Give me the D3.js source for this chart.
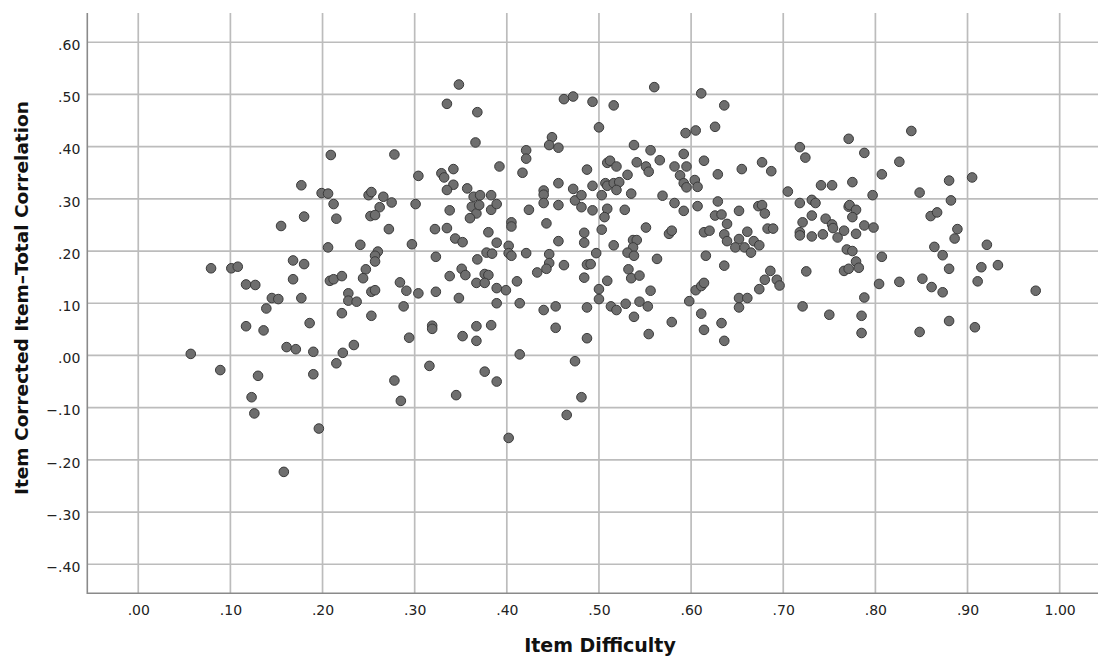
<!DOCTYPE html>
<html>
<head>
<meta charset="utf-8">
<script src="https://cdn.jsdelivr.net/npm/d3@7"></script>
<style>
  html, body { margin: 0; padding: 0; background: #ffffff; }
  svg { display: block; }
</style>
</head>
<body>
<svg id="chart" width="1098" height="657"></svg>
<script>
// ---- Data ----
const difficulty = [
0.348,0.335,0.368,0.366,0.209,0.278,0.304,0.329,0.332,0.342,0.342,0.335,0.357,0.364,0.362,0.367,0.360,0.338,
0.177,0.199,0.206,0.212,0.180,0.215,0.155,0.250,0.253,0.266,0.275,0.262,0.252,0.257,0.301,0.272,0.322,0.335,
0.344,0.352,0.368,0.206,0.241,0.297,0.260,0.257,0.257,0.247,0.244,0.323,0.351,0.355,0.338,0.367,0.079,0.101,
0.108,0.117,0.127,0.168,0.180,0.168,0.208,0.212,0.221,0.145,0.152,0.177,0.139,0.228,0.228,0.237,0.253,0.257,
0.284,0.291,0.304,0.323,0.348,0.221,0.253,0.288,0.117,0.136,0.186,0.319,0.319,0.294,0.352,0.367,0.367,0.161,
0.171,0.190,0.222,0.234,0.057,
0.215,0.089,0.130,0.190,0.316,0.278,0.285,0.345,0.123,0.126,0.196,0.158,
0.389,0.414,0.440,0.453,0.487,0.513,0.519,0.529,0.544,0.553,0.538,0.598,0.579,0.611,0.633,0.614,0.636,0.652,
0.721,0.750,0.785,0.785,0.383,0.453,0.487,0.554,0.414,0.474,0.376,0.389,0.481,0.465,0.402,
0.462,0.472,0.493,0.516,0.560,0.611,0.636,0.500,0.594,0.605,0.626,0.449,0.446,0.456,0.421,0.421,0.417,0.392,
0.371,0.383,0.370,0.383,0.389,0.380,0.389,0.405,0.405,0.424,0.440,0.440,0.440,0.443,0.456,0.456,0.472,0.474,
0.481,0.481,0.493,0.493,0.487,0.507,0.509,0.516,0.522,0.519,0.509,0.512,0.519,0.531,0.538,0.541,0.551,0.554,
0.556,0.566,0.535,0.503,0.509,0.506,0.528,0.503,0.516,0.497,0.484,0.484,0.551,0.537,0.541,0.537,0.531,0.538,
0.563,0.532,0.535,0.544,0.556,0.487,0.491,0.484,0.509,0.500,0.500,0.462,0.446,0.446,0.443,0.433,0.421,0.402,
0.402,0.405,0.411,0.399,0.389,0.378,0.384,0.376,0.380,0.376,0.456,0.576,0.579,0.569,0.582,0.592,0.607,0.582,
0.592,0.595,0.588,0.592,0.595,0.604,0.607,0.614,0.629,0.655,0.677,0.687,0.629,0.626,0.633,0.639,0.652,0.673,
0.677,0.680,0.614,0.620,0.636,0.639,0.652,0.648,0.661,0.658,0.665,0.668,0.674,0.683,0.689,0.616,0.636,0.686,
0.680,0.693,0.696,0.674,0.652,0.661,0.605,0.611,0.614,0.705,0.718,0.724,0.741,0.753,0.771,0.718,0.731,0.735,
0.731,0.721,0.718,0.718,0.731,0.746,0.753,0.754,0.743,0.759,0.766,0.771,0.769,0.725,0.766,0.771,
0.839,0.788,0.826,0.807,0.775,0.880,0.905,0.848,0.797,0.882,0.772,0.779,0.775,0.860,0.867,0.779,0.788,0.798,
0.889,0.886,0.864,0.873,0.921,0.775,0.807,0.779,0.782,0.880,0.915,0.933,0.804,0.826,0.851,0.861,0.873,0.911,
0.974,0.788,0.848,0.880,0.908
];
const correlation = [
0.519,0.482,0.466,0.408,0.384,0.385,0.344,0.349,0.341,0.357,0.327,0.317,0.320,0.304,0.285,0.272,0.263,0.278,
0.326,0.311,0.310,0.290,0.266,0.262,0.248,0.307,0.313,0.304,0.293,0.284,0.267,0.269,0.290,0.242,0.242,0.244,
0.224,0.217,0.184,0.207,0.212,0.213,0.199,0.191,0.180,0.165,0.148,0.189,0.166,0.154,0.152,0.139,0.167,0.167,
0.170,0.136,0.135,0.182,0.175,0.146,0.143,0.146,0.152,0.110,0.108,0.110,0.090,0.119,0.105,0.103,0.122,0.125,
0.140,0.124,0.119,0.122,0.110,0.081,0.076,0.094,0.056,0.048,0.062,0.057,0.051,0.034,0.037,0.056,0.028,0.016,
0.012,0.007,0.005,0.020,0.003,
-0.015,-0.028,-0.039,-0.036,-0.020,-0.048,-0.087,-0.076,-0.080,-0.111,-0.140,-0.223,
0.100,0.100,0.087,0.094,0.092,0.094,0.087,0.099,0.103,0.094,0.074,0.104,0.064,0.080,0.062,0.049,0.028,0.092,
0.094,0.078,0.076,0.043,0.058,0.053,0.033,0.041,0.002,-0.011,-0.031,-0.050,-0.080,-0.114,-0.158,
0.491,0.496,0.486,0.479,0.514,0.502,0.479,0.437,0.426,0.431,0.438,0.418,0.403,0.398,0.393,0.377,0.350,0.362,
0.307,0.307,0.288,0.279,0.290,0.236,0.216,0.255,0.247,0.279,0.316,0.308,0.292,0.253,0.330,0.288,0.319,0.297,
0.307,0.284,0.325,0.278,0.356,0.330,0.325,0.330,0.332,0.317,0.369,0.373,0.362,0.346,0.403,0.370,0.362,0.352,
0.393,0.374,0.310,0.307,0.281,0.265,0.279,0.241,0.211,0.196,0.235,0.216,0.245,0.221,0.221,0.207,0.197,0.191,
0.185,0.165,0.148,0.153,0.124,0.174,0.175,0.149,0.143,0.127,0.108,0.173,0.194,0.177,0.166,0.159,0.196,0.210,
0.196,0.191,0.142,0.125,0.129,0.197,0.195,0.156,0.154,0.139,0.219,0.233,0.239,0.306,0.292,0.277,0.286,0.362,
0.386,0.362,0.345,0.330,0.322,0.336,0.323,0.373,0.347,0.357,0.370,0.353,0.295,0.268,0.270,0.252,0.277,0.286,
0.288,0.272,0.236,0.239,0.232,0.219,0.223,0.207,0.237,0.207,0.197,0.219,0.211,0.243,0.243,0.191,0.172,0.162,
0.145,0.145,0.134,0.127,0.110,0.110,0.125,0.133,0.139,0.314,0.399,0.379,0.326,0.326,0.415,0.292,0.298,0.292,
0.268,0.255,0.236,0.230,0.228,0.262,0.251,0.244,0.232,0.226,0.239,0.285,0.203,0.161,0.162,0.166,
0.430,0.388,0.371,0.347,0.332,0.335,0.341,0.312,0.307,0.297,0.288,0.279,0.265,0.267,0.274,0.233,0.249,0.245,
0.242,0.224,0.208,0.192,0.212,0.200,0.189,0.180,0.168,0.166,0.169,0.173,0.137,0.141,0.147,0.131,0.121,0.142,
0.124,0.111,0.045,0.066,0.054
];
const xTickValues = [0.0,0.1,0.2,0.3,0.4,0.5,0.6,0.7,0.8,0.9,1.0];
const xTickLabels = [".00",".10",".20",".30",".40",".50",".60",".70",".80",".90","1.00"];
const yTickValues = [-0.4,-0.3,-0.2,-0.1,0.0,0.1,0.2,0.3,0.4,0.5,0.6];
const yTickLabels = ["\u2212.40","\u2212.30","\u2212.20","\u2212.10",".00",".10",".20",".30",".40",".50",".60"];
const xDomain = [-0.0553, 1.0416];
const yDomain = [-0.4556, 0.656];
const xTitle = "Item Difficulty";
const yTitle = "Item Corrected Item\u2013Total Correlation";

// ---- Layout ----
const W = 1098, H = 657;
const plot = { left: 87.3, right: 1098, top: 13, bottom: 593.3 };

const svg = d3.select("#chart");
const x = d3.scaleLinear().domain(xDomain).range([plot.left, plot.right]);
const y = d3.scaleLinear().domain(yDomain).range([plot.bottom, plot.top]);

const gridColor = "#bcbcbc";
const axisColor = "#8a8a8a";
const tickFont = "'DejaVu Sans', sans-serif";

// Grid lines
const grid = svg.append("g");
grid.selectAll("line.v").data(xTickValues).join("line")
  .attr("x1", d => x(d)).attr("x2", d => x(d))
  .attr("y1", plot.top).attr("y2", plot.bottom)
  .attr("stroke", gridColor).attr("stroke-width", 1.7);
grid.selectAll("line.h").data(yTickValues).join("line")
  .attr("x1", plot.left).attr("x2", plot.right)
  .attr("y1", d => y(d)).attr("y2", d => y(d))
  .attr("stroke", gridColor).attr("stroke-width", 1.7);

// Axes (D3 axes with custom labels)
const xAxis = d3.axisBottom(x).tickValues(xTickValues)
  .tickFormat((d, i) => xTickLabels[i]).tickSize(0).tickPadding(12);
const gx = svg.append("g").attr("transform", `translate(0,${plot.bottom})`).call(xAxis);
gx.select(".domain").remove();
gx.selectAll("text").attr("font-family", tickFont).attr("font-size", 14).attr("fill", "#222");

const yAxis = d3.axisLeft(y).tickValues(yTickValues)
  .tickFormat((d, i) => yTickLabels[i]).tickSize(0).tickPadding(7);
const gy = svg.append("g").attr("transform", `translate(${plot.left},0)`).call(yAxis);
gy.select(".domain").remove();
gy.selectAll("text").attr("font-family", tickFont).attr("font-size", 14).attr("fill", "#222")
  .attr("dy", "0.52em");

// Axis lines
svg.append("line").attr("x1", plot.left).attr("x2", plot.left)
  .attr("y1", plot.top).attr("y2", plot.bottom + 0.8)
  .attr("stroke", axisColor).attr("stroke-width", 1.6);
svg.append("line").attr("x1", plot.left).attr("x2", plot.right)
  .attr("y1", plot.bottom).attr("y2", plot.bottom)
  .attr("stroke", axisColor).attr("stroke-width", 1.6);

// Points
const pts = difficulty.map((d, i) => ({ x: d, y: correlation[i] }));
svg.append("g").selectAll("circle").data(pts).join("circle")
  .attr("cx", d => x(d.x)).attr("cy", d => y(d.y)).attr("r", 4.8)
  .attr("fill", "#6e6e6e").attr("stroke", "#3a3a3a").attr("stroke-width", 1);

// Titles
svg.append("text").attr("x", 600).attr("y", 652)
  .attr("text-anchor", "middle").attr("font-family", tickFont)
  .attr("font-weight", "bold").attr("font-size", 19).attr("fill", "#111")
  .text(xTitle);
svg.append("text").attr("transform", "translate(28,298) rotate(-90)")
  .attr("text-anchor", "middle").attr("font-family", tickFont)
  .attr("font-weight", "bold").attr("font-size", 18.5).attr("fill", "#111")
  .text(yTitle);
</script>
</body>
</html>
